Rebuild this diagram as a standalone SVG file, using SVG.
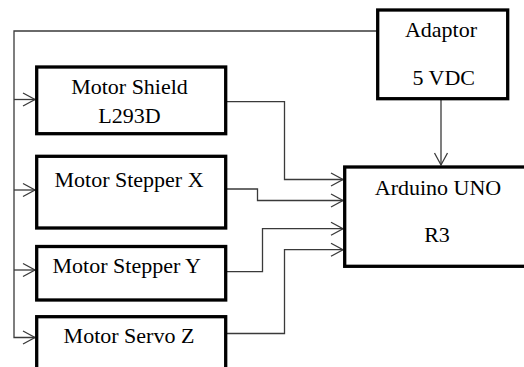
<svg xmlns="http://www.w3.org/2000/svg" width="524" height="367" viewBox="0 0 524 367">
<defs>
<style>
.box{fill:#fff;stroke:#000;stroke-width:3.3}
.lbl{font-family:'Liberation Serif','Tinos','DejaVu Serif','Noto Serif','Times New Roman',Times,serif;font-size:22px;fill:#000;text-anchor:middle}
.conn{fill:none;stroke:#3a3a3a;stroke-width:1.3}
</style>
<marker id="arr" markerUnits="userSpaceOnUse" markerWidth="16" markerHeight="16" viewBox="-14 -8 16 16" refX="0" refY="0" orient="auto">
<path d="M-12,-6.5 L0,0 L-12,6.5" fill="none" stroke="#3a3a3a" stroke-width="1.3"/>
</marker>
</defs>
<rect width="524" height="367" fill="#fff"/>
<g id="connectors">
<path class="conn" d="M377,31 H14 V337.5 H35" marker-end="url(#arr)"/>
<path class="conn" d="M14,99.5 H35" marker-end="url(#arr)"/>
<path class="conn" d="M14,190 H35" marker-end="url(#arr)"/>
<path class="conn" d="M14,270 H35" marker-end="url(#arr)"/>
<path class="conn" d="M441,100 V165" marker-end="url(#arr)"/>
<path class="conn" d="M227,101.7 H284.5 V179.5 H343" marker-end="url(#arr)"/>
<path class="conn" d="M227,189 H257.5 V200.5 H343" marker-end="url(#arr)"/>
<path class="conn" d="M227,271.7 H262.5 V228.7 H343" marker-end="url(#arr)"/>
<path class="conn" d="M227,333.5 H284.5 V249.7 H343" marker-end="url(#arr)"/>
</g>
<g id="shield">
<rect class="box" x="36.7" y="67" width="189" height="66.7"/>
<text class="lbl" x="129.5" y="94" font-family="Liberation Serif, serif">Motor Shield</text>
<text class="lbl" x="129.5" y="123.3">L293D</text>
</g>
<g id="stepperX">
<rect class="box" x="36.7" y="156.3" width="189" height="71.7"/>
<text class="lbl" x="129" y="186.7">Motor Stepper X</text>
</g>
<g id="stepperY">
<rect class="box" x="36.7" y="246.5" width="189" height="53.5"/>
<text class="lbl" x="126.7" y="273.3">Motor Stepper Y</text>
</g>
<g id="servoZ">
<rect class="box" x="36.7" y="316.7" width="189" height="70"/>
<text class="lbl" x="129" y="342.7">Motor Servo Z</text>
</g>
<g id="adaptor">
<rect class="box" x="377.7" y="10" width="130" height="88.7"/>
<text class="lbl" x="441" y="37.3">Adaptor</text>
<text class="lbl" x="443.7" y="85">5 VDC</text>
</g>
<g id="arduino">
<rect class="box" x="344.7" y="167" width="200" height="99.3"/>
<text class="lbl" x="438" y="195">Arduino UNO</text>
<text class="lbl" x="437" y="241.7">R3</text>
</g>
</svg>
